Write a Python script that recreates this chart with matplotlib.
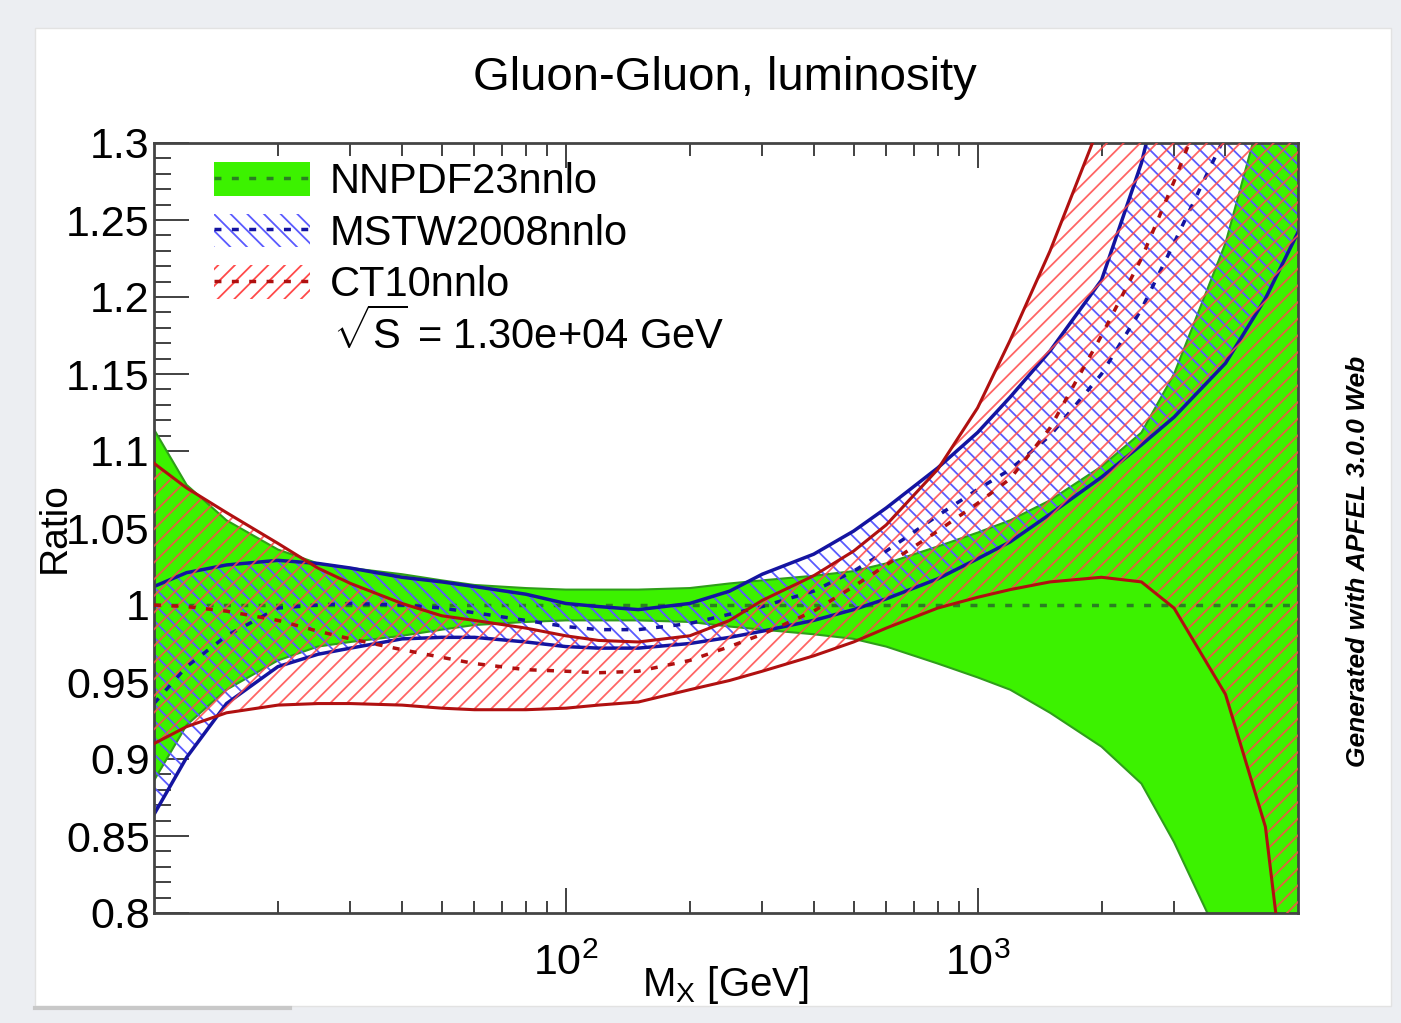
import matplotlib
matplotlib.use('Agg')
import matplotlib.pyplot as plt
from matplotlib.patches import Patch, Rectangle
from matplotlib.lines import Line2D
from matplotlib.ticker import FixedLocator, MultipleLocator, NullFormatter

plt.rcParams['font.family'] = ['Liberation Sans', 'DejaVu Sans']
plt.rcParams['mathtext.fontset'] = 'custom'
plt.rcParams['mathtext.rm'] = 'Liberation Sans'
plt.rcParams['mathtext.it'] = 'Liberation Sans:italic'
plt.rcParams['hatch.linewidth'] = 1.3

# invariant mass grid [GeV]
mx = [10, 12, 15, 20, 25, 30, 40, 50, 60, 80, 100, 120, 150, 200, 250, 300,
      400, 500, 600, 800, 1000, 1200, 1500, 2000, 2500, 3000, 4000, 5000, 6000]

# NNPDF23nnlo (reference set)
nnpdf_c = [1.000, 1.000, 1.000, 1.000, 1.000, 1.000, 1.000, 1.000, 1.000, 1.000,
           1.000, 1.000, 1.000, 1.000, 1.000, 1.000, 1.000, 1.000, 1.000, 1.000,
           1.000, 1.000, 1.000, 1.000, 1.000, 1.000, 1.000, 1.000, 1.000]
nnpdf_up = [1.114, 1.078, 1.055, 1.036, 1.027, 1.024, 1.020, 1.016, 1.013, 1.011,
            1.010, 1.010, 1.010, 1.011, 1.014, 1.016, 1.019, 1.022, 1.027, 1.038,
            1.047, 1.055, 1.068, 1.090, 1.112, 1.150, 1.235, 1.330, 1.420]
nnpdf_lo = [0.886, 0.922, 0.945, 0.964, 0.973, 0.976, 0.980, 0.984, 0.987, 0.989,
            0.990, 0.990, 0.990, 0.989, 0.986, 0.984, 0.981, 0.978, 0.973, 0.962,
            0.953, 0.945, 0.930, 0.908, 0.884, 0.846, 0.775, 0.700, 0.620]

# MSTW2008nnlo
mstw_c = [0.936, 0.960, 0.980, 0.998, 1.000, 1.001, 1.000, 0.998, 0.995, 0.990,
          0.986, 0.984, 0.984, 0.988, 0.994, 0.999, 1.009, 1.022, 1.035, 1.058,
          1.075, 1.088, 1.110, 1.150, 1.192, 1.235, 1.305, 1.390, 1.470]
mstw_up = [1.012, 1.021, 1.026, 1.029, 1.027, 1.024, 1.018, 1.015, 1.012, 1.007,
           1.001, 0.999, 0.997, 1.001, 1.009, 1.020, 1.033, 1.048, 1.063, 1.089,
           1.112, 1.135, 1.165, 1.211, 1.287, 1.374, 1.500, 1.600, 1.700]
mstw_lo = [0.864, 0.901, 0.936, 0.960, 0.968, 0.972, 0.978, 0.979, 0.979, 0.976,
           0.973, 0.972, 0.972, 0.975, 0.979, 0.983, 0.990, 0.997, 1.004, 1.017,
           1.030, 1.041, 1.059, 1.083, 1.104, 1.122, 1.157, 1.199, 1.242]

# CT10nnlo
ct_c = [1.000, 0.999, 0.996, 0.990, 0.983, 0.978, 0.971, 0.966, 0.962, 0.958,
        0.957, 0.956, 0.957, 0.964, 0.973, 0.981, 0.996, 1.012, 1.026, 1.048,
        1.066, 1.082, 1.115, 1.175, 1.225, 1.275, 1.360, 1.440, 1.520]
ct_up = [1.092, 1.076, 1.060, 1.040, 1.024, 1.014, 1.001, 0.993, 0.990, 0.985,
         0.980, 0.977, 0.976, 0.980, 0.990, 1.003, 1.019, 1.035, 1.052, 1.088,
         1.128, 1.172, 1.230, 1.315, 1.400, 1.480, 1.600, 1.700, 1.800]
ct_lo = [0.910, 0.921, 0.930, 0.935, 0.936, 0.936, 0.935, 0.933, 0.932, 0.932,
         0.933, 0.935, 0.937, 0.945, 0.951, 0.957, 0.967, 0.976, 0.985, 0.998,
         1.005, 1.010, 1.015, 1.018, 1.015, 0.998, 0.942, 0.856, 0.680]

pdf_names = ['NNPDF23nnlo', 'MSTW2008nnlo', 'CT10nnlo']
energy_label = r'$\sqrt{\mathrm{S}}$ = 1.30e+04 GeV'

xtick_vals = [100, 1000]
xtick_labels = [r'$\mathdefault{10^{2}}$', r'$\mathdefault{10^{3}}$']
ytick_vals = [0.8, 0.85, 0.9, 0.95, 1.0, 1.05, 1.1, 1.15, 1.2, 1.25, 1.3]
ytick_labels = ['0.8', '0.85', '0.9', '0.95', '1', '1.05', '1.1', '1.15', '1.2', '1.25', '1.3']

GREEN = '#3cf200'
GREEN_EDGE = '#2f9e1a'
GREEN_DASH = '#2a7f22'
BLUE = '#1414a0'
BLUE_HATCH = '#5a5aff'
RED = '#b01010'
RED_HATCH = '#ff4a4a'

W, H = 1401, 1023
fig = plt.figure(figsize=(W / 100, H / 100), dpi=100)
fig.patch.set_facecolor('#eceef2')
# white card behind the plot (screenshot look)
fig.add_artist(Rectangle((35 / W, 1 - 1006 / H), (1391 - 35) / W, (1006 - 28) / H,
                         transform=fig.transFigure, facecolor='white',
                         edgecolor='#e2e2e2', lw=1, zorder=-10))
fig.add_artist(Line2D([35 / W, 290 / W], [1 - 1008 / H] * 2, transform=fig.transFigure,
                      color='#c8c8c8', lw=3))

ax = fig.add_axes([154 / W, 110 / H, 1144 / W, 770 / H])

# 1. NNPDF band
ax.fill_between(mx, nnpdf_lo, nnpdf_up, facecolor=GREEN, edgecolor='none', zorder=1)
ax.plot(mx, nnpdf_up, color=GREEN_EDGE, lw=1.5, zorder=1.1)
ax.plot(mx, nnpdf_lo, color=GREEN_EDGE, lw=1.5, zorder=1.1)
ax.plot(mx, nnpdf_c, color=GREEN_DASH, lw=2.5, ls=(0, (2, 3)), zorder=1.2)

# 2. MSTW band
ax.fill_between(mx, mstw_lo, mstw_up, facecolor='none', edgecolor=BLUE_HATCH,
                hatch='\\\\', linewidth=0, zorder=2)
ax.plot(mx, mstw_up, color=BLUE, lw=2.5, zorder=2.1)
ax.plot(mx, mstw_lo, color=BLUE, lw=2.5, zorder=2.1)
ax.plot(mx, mstw_c, color=BLUE, lw=2.5, ls=(0, (2, 3)), zorder=2.2)

# 3. CT10 band
ax.fill_between(mx, ct_lo, ct_up, facecolor='none', edgecolor=RED_HATCH,
                hatch='//', linewidth=0, alpha=0.85, zorder=3)
ax.plot(mx, ct_up, color=RED, lw=2.2, zorder=3.1)
ax.plot(mx, ct_lo, color=RED, lw=2.2, zorder=3.1)
ax.plot(mx, ct_c, color=RED, lw=2.5, ls=(0, (2, 3)), zorder=3.2)

ax.set_xscale('log')
ax.set_xlim(10, 6000)
ax.set_ylim(0.8, 1.3)
ax.set_axisbelow(True)

ax.xaxis.set_major_locator(FixedLocator(xtick_vals))
ax.set_xticklabels(xtick_labels)
ax.xaxis.set_minor_formatter(NullFormatter())
ax.yaxis.set_major_locator(FixedLocator(ytick_vals))
ax.set_yticklabels(ytick_labels)
ax.yaxis.set_minor_locator(MultipleLocator(0.01))

ax.tick_params(which='both', direction='in', top=True, right=False,
               color='#333333', width=1.3, labelsize=31)
ax.tick_params(axis='x', which='major', length=18, pad=22)
ax.tick_params(axis='x', which='minor', length=9)
ax.tick_params(axis='y', which='major', length=25, pad=3)
ax.tick_params(axis='y', which='minor', length=12)
for s in ax.spines.values():
    s.set_linewidth(2)
    s.set_color('#444444')

handles = [
    (Patch(facecolor=GREEN, edgecolor='none'),
     Line2D([], [], color=GREEN_DASH, lw=2.5, ls=(0, (2, 3)))),
    (Patch(facecolor='none', edgecolor=BLUE_HATCH, hatch='\\\\', lw=0),
     Line2D([], [], color=BLUE, lw=2.5, ls=(0, (2, 3)))),
    (Patch(facecolor='none', edgecolor=RED_HATCH, hatch='//', lw=0),
     Line2D([], [], color=RED, lw=2.5, ls=(0, (2, 3)))),
]
ax.legend(handles, pdf_names, loc='upper left',
          bbox_to_anchor=(0.0524, 0.975), frameon=False, fontsize=30,
          handlelength=2.3, handleheight=0.86, handletextpad=0.48,
          labelspacing=0.27, borderpad=0, borderaxespad=0)
ax.text(0.1565, 0.753, energy_label, transform=ax.transAxes, ha='left', va='center',
        fontsize=30, zorder=6)

fig.text(725 / W, 1 - 78 / H, 'Gluon-Gluon, luminosity', ha='center', va='center',
         fontsize=34)
fig.text(55 / W, 1 - 528 / H, 'Ratio', rotation=90, ha='center', va='center',
         fontsize=28)
fig.text(725 / W, 1 - 985 / H, r'M$_{\mathrm{X}}$ [GeV]', ha='center', va='center',
         fontsize=29)
fig.text(1358 / W, 1 - 561 / H, 'Generated with APFEL 3.0.0 Web', rotation=90,
         ha='center', va='center', fontsize=19, fontweight='bold', fontstyle='italic')

fig.savefig('out.png', dpi=100, facecolor=fig.get_facecolor())
